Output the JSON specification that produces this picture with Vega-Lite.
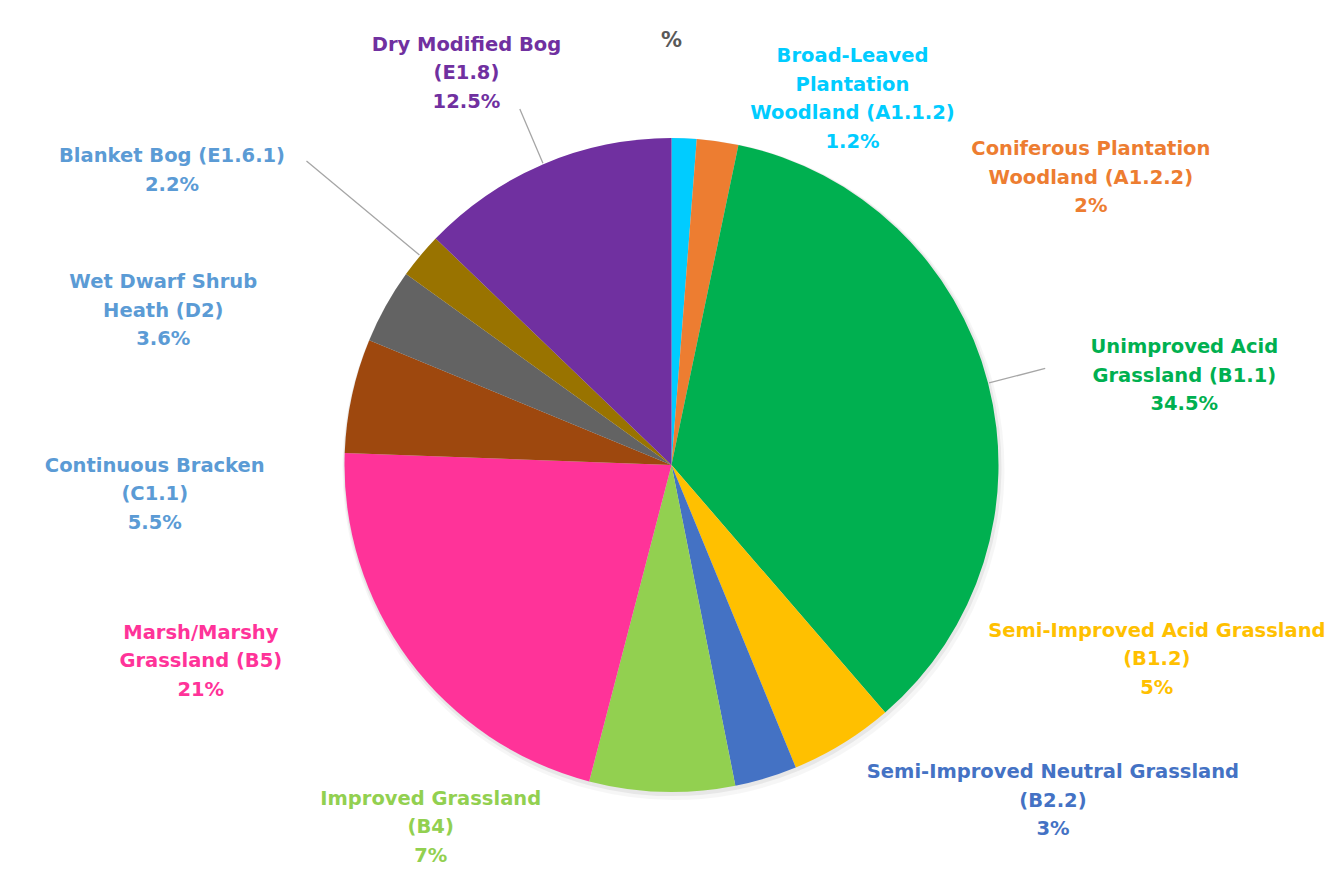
{
  "$schema": "https://vega.github.io/schema/vega-lite/v6.json",
  "width": 1343,
  "height": 810,
  "autosize": {"type": "none"},
  "padding": {"left": 0, "right": 0, "top": 60, "bottom": 0},
  "background": "white",
  "title": {"text": "%", "fontSize": 21, "fontWeight": "bold", "color": "#595959", "font": "DejaVu Sans", "frame": "group", "anchor": "middle", "orient": "top", "baseline": "bottom", "offset": -37},
  "config": {
    "view": {"stroke": null},
    "text": {"font": "DejaVu Sans", "fontSize": 19.5, "fontWeight": "bold", "lineHeight": 28.5, "lineBreak": "\n", "align": "center", "baseline": "middle"}
  },
  "data": {"values": [
    {"id": "BL", "k": 1, "category": "Broad-Leaved Plantation Woodland (A1.1.2)", "value": 1.2, "label": "Broad-Leaved\nPlantation\nWoodland  (A1.1.2)\n1.2%"},
    {"id": "CON", "k": 2, "category": "Coniferous Plantation Woodland (A1.2.2)", "value": 2, "label": "Coniferous Plantation\nWoodland  (A1.2.2)\n2%"},
    {"id": "UA", "k": 3, "category": "Unimproved Acid Grassland (B1.1)", "value": 34.5, "label": "Unimproved Acid\nGrassland (B1.1)\n34.5%"},
    {"id": "SIA", "k": 4, "category": "Semi-Improved Acid Grassland (B1.2)", "value": 5, "label": "Semi-Improved Acid Grassland\n(B1.2)\n5%"},
    {"id": "SIN", "k": 5, "category": "Semi-Improved Neutral Grassland (B2.2)", "value": 3, "label": "Semi-Improved Neutral Grassland\n(B2.2)\n3%"},
    {"id": "IG", "k": 6, "category": "Improved Grassland (B4)", "value": 7, "label": "Improved Grassland\n(B4)\n7%"},
    {"id": "MB", "k": 7, "category": "Marsh/Marshy Grassland (B5)", "value": 21, "label": "Marsh/Marshy\nGrassland  (B5)\n21%"},
    {"id": "CB", "k": 8, "category": "Continuous Bracken (C1.1)", "value": 5.5, "label": "Continuous Bracken\n(C1.1)\n5.5%"},
    {"id": "WDS", "k": 9, "category": "Wet Dwarf Shrub Heath (D2)", "value": 3.6, "label": "Wet Dwarf Shrub\nHeath (D2)\n3.6%"},
    {"id": "BB", "k": 10, "category": "Blanket Bog (E1.6.1)", "value": 2.2, "label": "Blanket Bog (E1.6.1)\n2.2%"},
    {"id": "DMB", "k": 11, "category": "Dry Modified Bog (E1.8)", "value": 12.5, "label": "Dry Modified Bog\n(E1.8)\n12.5%"}
  ]},
  "transform": [
    {"stack": "value", "groupby": [], "sort": [{"field": "k", "order": "ascending"}], "as": ["t0", "t1"]}
  ],
  "layer": [
    {"mark": {"type": "arc", "outerRadius": 331, "color": "#000000", "opacity": 0.035, "xOffset": 2, "yOffset": 4},
     "encoding": {"theta": {"field": "t1", "type": "quantitative", "stack": null, "scale": {"nice": false, "zero": true}}, "theta2": {"field": "t0"}}},
    {"mark": {"type": "arc", "outerRadius": 329, "color": "#000000", "opacity": 0.06, "xOffset": 1, "yOffset": 2},
     "encoding": {"theta": {"field": "t1", "type": "quantitative", "stack": null}, "theta2": {"field": "t0"}}},
    {
      "mark": {"type": "arc", "outerRadius": 327},
      "encoding": {
        "theta": {"field": "t1", "type": "quantitative", "stack": null},
        "theta2": {"field": "t0"},
        "color": {
          "field": "category", "type": "nominal", "legend": null,
          "scale": {
            "domain": ["Broad-Leaved Plantation Woodland (A1.1.2)", "Coniferous Plantation Woodland (A1.2.2)", "Unimproved Acid Grassland (B1.1)", "Semi-Improved Acid Grassland (B1.2)", "Semi-Improved Neutral Grassland (B2.2)", "Improved Grassland (B4)", "Marsh/Marshy Grassland (B5)", "Continuous Bracken (C1.1)", "Wet Dwarf Shrub Heath (D2)", "Blanket Bog (E1.6.1)", "Dry Modified Bog (E1.8)"],
            "range": ["#00CCFF", "#ED7D31", "#00B050", "#FFC000", "#4472C4", "#92D050", "#FF3399", "#9E480E", "#636363", "#997300", "#7030A0"]
          }
        }
      }
    },
    {"transform": [{"filter": "datum.id === 'DMB'"}],
     "mark": {"type": "arc", "innerRadius": 328, "outerRadius": 387, "padAngle": 3.14159, "filled": false, "stroke": "#A6A6A6", "strokeWidth": 1.3},
     "encoding": {"theta": {"field": "t1", "type": "quantitative", "stack": null}, "theta2": {"field": "t0"}}},
    {"transform": [{"filter": "datum.id === 'BB'"}],
     "mark": {"type": "arc", "innerRadius": 328, "outerRadius": 475, "padAngle": 3.14159, "filled": false, "stroke": "#A6A6A6", "strokeWidth": 1.3},
     "encoding": {"theta": {"field": "t1", "type": "quantitative", "stack": null}, "theta2": {"field": "t0"}}},
    {"transform": [{"filter": "datum.id === 'UA'"}],
     "mark": {"type": "arc", "innerRadius": 328, "outerRadius": 386, "padAngle": 3.14159, "filled": false, "stroke": "#A6A6A6", "strokeWidth": 1.3},
     "encoding": {"theta": {"field": "t1", "type": "quantitative", "stack": null}, "theta2": {"field": "t0"}}},
    {"transform": [{"filter": "datum.id === 'BL'"}],
     "mark": {"type": "text", "radius": 380, "dx": 181, "dy": -29, "color": "#00CCFF"},
     "encoding": {"theta": {"field": "t0", "type": "quantitative", "stack": null}, "text": {"field": "label"}}},
    {"transform": [{"filter": "datum.id === 'CON'"}],
     "mark": {"type": "text", "radius": 380, "dx": 390, "dy": 63, "color": "#ED7D31"},
     "encoding": {"theta": {"field": "t0", "type": "quantitative", "stack": null}, "text": {"field": "label"}}},
    {"transform": [{"filter": "datum.id === 'UA'"}],
     "mark": {"type": "text", "radius": 380, "dx": 435, "dy": 254, "color": "#00B050"},
     "encoding": {"theta": {"field": "t0", "type": "quantitative", "stack": null}, "text": {"field": "label"}}},
    {"transform": [{"filter": "datum.id === 'SIA'"}],
     "mark": {"type": "text", "radius": 380, "dx": 237, "dy": -122, "color": "#FFC000"},
     "encoding": {"theta": {"field": "t0", "type": "quantitative", "stack": null}, "text": {"field": "label"}}},
    {"transform": [{"filter": "datum.id === 'SIN'"}],
     "mark": {"type": "text", "radius": 380, "dx": 237, "dy": -44, "color": "#4472C4"},
     "encoding": {"theta": {"field": "t0", "type": "quantitative", "stack": null}, "text": {"field": "label"}}},
    {"transform": [{"filter": "datum.id === 'IG'"}],
     "mark": {"type": "text", "radius": 380, "dx": -315, "dy": -39, "color": "#92D050"},
     "encoding": {"theta": {"field": "t0", "type": "quantitative", "stack": null}, "text": {"field": "label"}}},
    {"transform": [{"filter": "datum.id === 'MB'"}],
     "mark": {"type": "text", "radius": 380, "dx": -375, "dy": -200, "color": "#FF3399"},
     "encoding": {"theta": {"field": "t0", "type": "quantitative", "stack": null}, "text": {"field": "label"}}},
    {"transform": [{"filter": "datum.id === 'CB'"}],
     "mark": {"type": "text", "radius": 380, "dx": -137, "dy": 15, "color": "#5B9BD5"},
     "encoding": {"theta": {"field": "t0", "type": "quantitative", "stack": null}, "text": {"field": "label"}}},
    {"transform": [{"filter": "datum.id === 'WDS'"}],
     "mark": {"type": "text", "radius": 380, "dx": -157, "dy": -38, "color": "#5B9BD5"},
     "encoding": {"theta": {"field": "t0", "type": "quantitative", "stack": null}, "text": {"field": "label"}}},
    {"transform": [{"filter": "datum.id === 'BB'"}],
     "mark": {"type": "text", "radius": 380, "dx": -191, "dy": -87, "color": "#5B9BD5"},
     "encoding": {"theta": {"field": "t0", "type": "quantitative", "stack": null}, "text": {"field": "label"}}},
    {"transform": [{"filter": "datum.id === 'DMB'"}],
     "mark": {"type": "text", "radius": 380, "dx": 69, "dy": -157, "color": "#7030A0"},
     "encoding": {"theta": {"field": "t0", "type": "quantitative", "stack": null}, "text": {"field": "label"}}}
  ]
}
